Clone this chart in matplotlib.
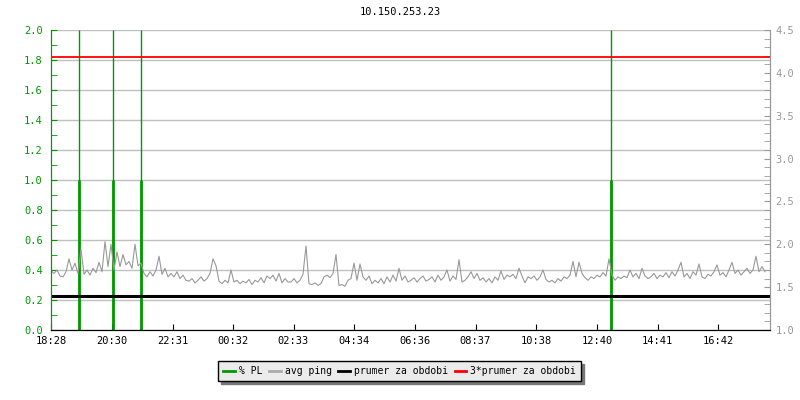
import matplotlib
matplotlib.use("Agg")
import matplotlib.pyplot as plt
from matplotlib.ticker import MultipleLocator, FormatStrFormatter
import numpy as np

# --- data ---
title = "10.150.253.23"
tick_minutes = [0, 122, 243, 364, 485, 606, 728, 849, 970, 1092, 1213, 1334]   # minutes since 18:28
tick_labels = ["18:28", "20:30", "22:31", "00:32", "02:33", "04:34",
               "06:36", "08:37", "10:38", "12:40", "14:41", "16:42"]

sample_step = 6   # minutes between ping samples
avg_ping = [
    # 18:28 - 22:28
    1.69, 1.66, 1.70, 1.63, 1.62, 1.68, 1.83, 1.70, 1.78, 1.66,
    1.94, 1.65, 1.70, 1.64, 1.72, 1.67, 1.79, 1.68, 2.03, 1.74,
    2.00, 1.70, 1.91, 1.74, 1.88, 1.76, 1.80, 1.72, 2.00, 1.75,
    1.78, 1.66, 1.62, 1.68, 1.63, 1.70, 1.86, 1.65, 1.72, 1.62,
    # 22:28 -
    1.66, 1.62, 1.68, 1.60, 1.64, 1.58, 1.57, 1.60, 1.55, 1.58,
    1.62, 1.57, 1.60, 1.66, 1.83, 1.75, 1.57, 1.54, 1.58, 1.55,
    1.70, 1.56, 1.58, 1.54, 1.57, 1.55, 1.59, 1.53, 1.58, 1.56,
    1.61, 1.55, 1.63, 1.60, 1.64, 1.57, 1.66, 1.55, 1.60, 1.56,
    # 02:28 -
    1.56, 1.60, 1.55, 1.58, 1.65, 1.98, 1.54, 1.53, 1.55, 1.52,
    1.54, 1.62, 1.64, 1.61, 1.66, 1.88, 1.52, 1.53, 1.51, 1.58,
    1.60, 1.78, 1.58, 1.77, 1.62, 1.58, 1.63, 1.54, 1.58, 1.55,
    1.60, 1.54, 1.62, 1.56, 1.64, 1.57, 1.72, 1.58, 1.63, 1.56,
    # 06:28 -
    1.58, 1.61, 1.56, 1.60, 1.63, 1.57, 1.59, 1.62, 1.56, 1.64,
    1.58, 1.62, 1.70, 1.57, 1.63, 1.59, 1.82, 1.56, 1.58, 1.62,
    1.68, 1.60, 1.66, 1.58, 1.61, 1.56, 1.60, 1.55, 1.62, 1.58,
    1.69, 1.59, 1.64, 1.62, 1.65, 1.60, 1.72, 1.63, 1.55, 1.62,
    # 10:28 -
    1.60, 1.63, 1.58, 1.62, 1.70, 1.59, 1.56, 1.58, 1.55, 1.60,
    1.57, 1.62, 1.60, 1.64, 1.80, 1.62, 1.79, 1.66, 1.61, 1.58,
    1.62, 1.60, 1.64, 1.62, 1.67, 1.63, 1.83, 1.64, 1.58, 1.62,
    1.60, 1.63, 1.61, 1.70, 1.62, 1.66, 1.60, 1.72, 1.63, 1.60,
    # 14:28 -
    1.62, 1.66, 1.60, 1.64, 1.62, 1.67, 1.61, 1.68, 1.63, 1.70,
    1.79, 1.62, 1.66, 1.60, 1.68, 1.64, 1.77, 1.62, 1.60, 1.65,
    1.63, 1.68, 1.76, 1.64, 1.67, 1.62, 1.70, 1.79, 1.66, 1.70,
    1.64, 1.68, 1.72, 1.66, 1.70, 1.86, 1.68, 1.74, 1.68,
]
prumer = 1.395          # period average (right axis)
prumer3 = 3 * prumer    # 3 * period average

pl_minutes = [56, 124, 180, 1119]   # packet loss events
pl_values = [1.0, 1.0, 1.0, 1.0]

span_minutes = 1438

GREEN = "#009900"
GRAY = "#999999"
FONT = "DejaVu Sans Mono"

fig = plt.figure(figsize=(8, 4), dpi=100)
ax = fig.add_axes([0.06375, 0.175, 0.89875, 0.75])
ax2 = ax.twinx()

# left axis: % PL
ax.set_xlim(0, span_minutes)
ax.set_ylim(0, 2.0)
ax.vlines(pl_minutes, 0, 2.0, color=GREEN, lw=1)
ax.vlines(pl_minutes, 0, pl_values, color=GREEN, lw=2)
ax.yaxis.set_major_locator(MultipleLocator(0.2))
ax.yaxis.set_minor_locator(MultipleLocator(0.1))
ax.yaxis.set_major_formatter(FormatStrFormatter("%.1f"))
ax.grid(axis="y", color="#c0c0c0", lw=1)
ax.set_axisbelow(True)
ax.tick_params(axis="y", which="both", direction="in", length=4, color=GREEN,
               labelcolor=GREEN, labelsize=7.5, pad=6)
ax.set_xticks(tick_minutes)
ax.set_xticklabels(tick_labels, fontfamily=FONT)
ax.tick_params(axis="x", direction="in", length=4, labelsize=7.5, pad=4)
for lab in ax.get_yticklabels():
    lab.set_fontfamily(FONT)

# right axis: ping
t = np.arange(len(avg_ping)) * sample_step
ax2.plot(t, avg_ping, color=GRAY, lw=0.8)
ax2.axhline(prumer, color="black", lw=2.2)
ax2.axhline(prumer3, color="#ff0000", lw=1.3)
ax2.set_ylim(1.0, 4.5)
ax2.yaxis.set_major_locator(MultipleLocator(0.5))
ax2.yaxis.set_minor_locator(MultipleLocator(0.1))
ax2.yaxis.set_major_formatter(FormatStrFormatter("%.1f"))
ax2.tick_params(axis="y", which="both", direction="in", length=4, color=GRAY,
                labelcolor=GRAY, labelsize=7.5, pad=4)
for lab in ax2.get_yticklabels():
    lab.set_fontfamily(FONT)

for a in (ax, ax2):
    a.spines["top"].set_visible(False)
    a.spines["left"].set_color(GREEN)
    a.spines["right"].set_color(GRAY)
    a.spines["bottom"].set_color("black")

fig.text(0.5, 0.97, title, ha="center", va="center", fontsize=7.5, fontfamily=FONT)

# legend
handles = [plt.Line2D([], [], color=GREEN, lw=2),
           plt.Line2D([], [], color="#aaaaaa", lw=2),
           plt.Line2D([], [], color="black", lw=2),
           plt.Line2D([], [], color="#ff0000", lw=2)]
names = ["% PL", "avg ping", "prumer za obdobi", "3*prumer za obdobi"]
leg = fig.legend(handles, names, loc="center", bbox_to_anchor=(0.4995, 0.0725), ncol=4,
                 prop={"family": FONT, "size": 7}, handlelength=1.2,
                 handletextpad=0.4, columnspacing=0.7, borderpad=0.5,
                 fancybox=False, facecolor="#ebebeb", edgecolor="black", framealpha=1,
                 shadow={"ox": 2, "oy": -2, "color": "#777777", "alpha": 1})
leg.get_frame().set_linewidth(1)

fig.savefig("out.png", dpi=100)
